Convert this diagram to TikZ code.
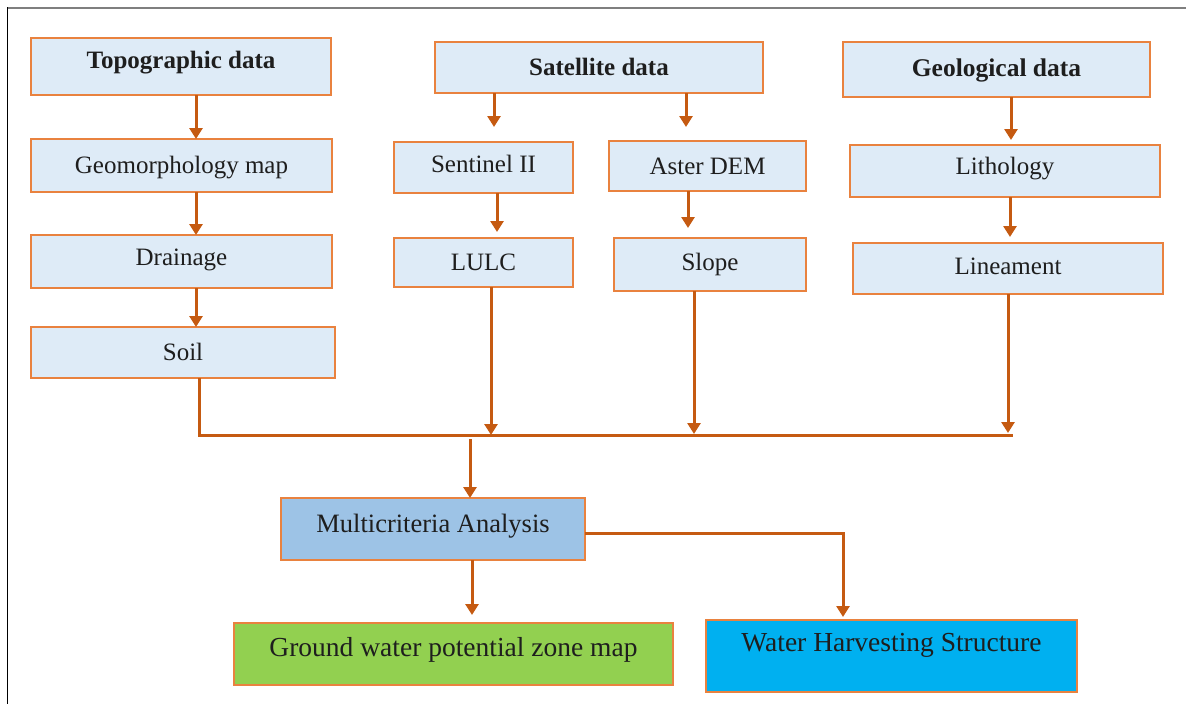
\documentclass[tikz,border=0pt]{standalone}
\usepackage{fontspec}
\setmainfont{Liberation Serif}
\usetikzlibrary{arrows.meta}

\definecolor{boxfill}{HTML}{DEEBF7}
\definecolor{boxedge}{HTML}{E9823F}
\definecolor{linkcol}{HTML}{C55A11}
\definecolor{mcafill}{HTML}{9DC3E6}
\definecolor{gwfill}{HTML}{92D050}
\definecolor{whsfill}{HTML}{00B0F0}
\definecolor{inkcol}{HTML}{1E1E1E}
\definecolor{rulegray}{HTML}{7F7F7F}

\tikzset{
  box/.style={draw=boxedge, fill=boxfill, line width=2.5pt, inner sep=0pt,
    outer sep=0pt, text=inkcol, font=\fontsize{25}{30}\selectfont,
    text height=17pt, text depth=0.5pt},
  boxsize/.style 2 args={minimum width=#1pt, minimum height=#2pt},
  td/.style={text depth=#1pt},
  link/.style={draw=linkcol, line width=3pt},
  arr/.style={link, -{Triangle[width=13pt,length=11pt]}},
}

\begin{document}
\begin{tikzpicture}[x=1pt,y=-1pt]
\useasboundingbox (0,0) rectangle (1186,704);

% page frame
\draw[rulegray, line width=2pt] (7,7.5) -- (1186,7.5);
\draw[black, line width=1.5pt] (7.5,7) -- (7.5,704);

% topographic column
\node[box, boxsize={300}{57}, td=13.5, font=\fontsize{25}{30}\selectfont\bfseries] (topo) at (181,66.5) {Topographic data};
\node[box, boxsize={301}{53}] (geom) at (181.5,165.5) {Geomorphology map};
\node[box, boxsize={301}{53}, td=8.5] (drain) at (181.5,261.5) {Drainage};
\node[box, boxsize={304}{51}] (soil) at (183,352.5) {Soil};

% satellite column
\node[box, boxsize={328}{51}, font=\fontsize{25}{30}\selectfont\bfseries] (sat) at (599,67.5) {Satellite data};
\node[box, boxsize={179}{51}, td=6.5] (senti) at (483.5,167.5) {Sentinel II};
\node[box, boxsize={197}{50}] (aster) at (707.5,166) {Aster DEM};
\node[box, boxsize={179}{49}] (lulc) at (483.5,262.5) {LULC};
\node[box, boxsize={192}{53}, td=5.5] (slope) at (710,264.5) {Slope};

% geological column
\node[box, boxsize={307}{55}, td=3.5, font=\fontsize{25.5}{30}\selectfont\bfseries] (geol) at (996.5,69.5) {Geological data};
\node[box, boxsize={310}{52}, td=10.5] (litho) at (1005,171) {Lithology};
\node[box, boxsize={310}{51}, td=4.5] (linea) at (1008,268.5) {Lineament};

% analysis and outputs
\node[box, fill=mcafill, boxsize={304}{62}, td=10.5, font=\fontsize{26.5}{30}\selectfont] (mca) at (433,529) {Multicriteria Analysis};
\node[box, fill=gwfill, boxsize={439}{62}, td=12.5, font=\fontsize{27.5}{30}\selectfont] (gw) at (453.5,654) {Ground water potential zone map};
\node[box, fill=whsfill, boxsize={371}{72}, td=26.5, font=\fontsize{27.5}{30}\selectfont] (whs) at (891.5,656) {Water Harvesting Structure};

% collecting line
\coordinate (busL) at (199,435);
\coordinate (busR) at (1013,435);

% vertical chains
\draw[arr] (topo.south -| 196,0) -- (geom.north -| 196,0);
\draw[arr] (geom.south -| 196,0) -- (drain.north -| 196,0);
\draw[arr] (drain.south -| 196,0) -- (soil.north -| 196,0);

\draw[arr, shorten >=15pt] (sat.south -| 494,0) -- (senti.north -| 494,0);
\draw[arr, shorten >=14pt] (sat.south -| 686,0) -- (aster.north -| 686,0);
\draw[arr, shorten >=6pt] (senti.south -| 497,0) -- (lulc.north -| 497,0);
\draw[arr, shorten >=10pt] (aster.south -| 688,0) -- (slope.north -| 688,0);

\draw[arr, shorten >=5pt] (geol.south -| 1011,0) -- (litho.north -| 1011,0);
\draw[arr, shorten >=6pt] (litho.south -| 1010,0) -- (linea.north -| 1010,0);

% merge into the collecting line
\draw[link] (soil.south -| busL) -- (busL) -- (busR);
\draw[arr] (lulc.south -| 491,0) -- (busL -| 491,0);
\draw[arr, shorten >=1pt] (slope.south -| 694,0) -- (busL -| 694,0);
\draw[arr, shorten >=2pt] (linea.south -| 1008,0) -- (busL -| 1008,0);

% to the analysis and its outputs
\draw[arr, shorten <=4pt] (busL -| 470,0) -- (mca.north -| 470,0);
\draw[arr, shorten >=8pt] (mca.south -| 472,0) -- (gw.north -| 472,0);
\draw[arr, shorten >=3pt] (mca.east |- 0,533) -| (whs.north -| 843,0);
\end{tikzpicture}
\end{document}
